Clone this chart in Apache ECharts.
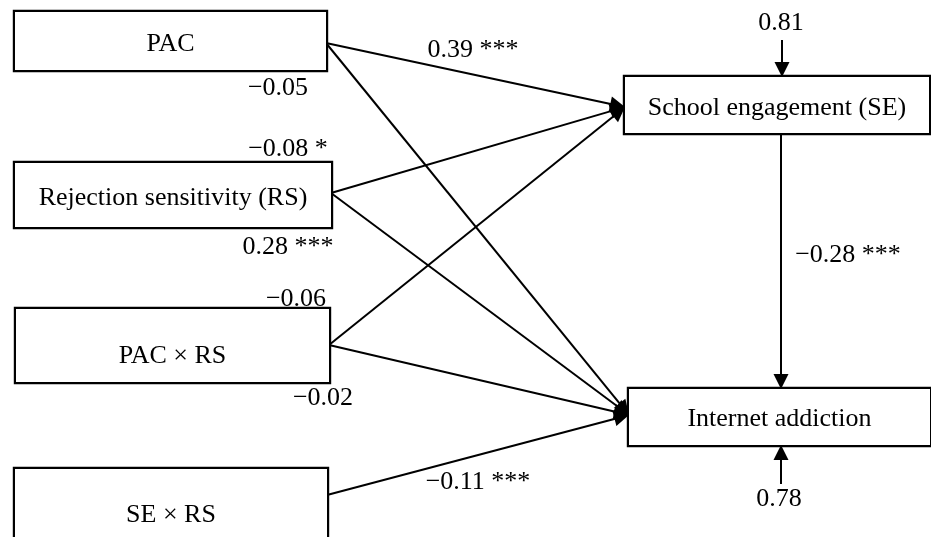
<!DOCTYPE html>
<html>
<head>
<meta charset="utf-8">
<script src="https://cdn.jsdelivr.net/npm/echarts@6/dist/echarts.min.js"></script>
<style>
html, body { margin: 0; background: #fff; }
#main { width: 931px; height: 537px; }
</style>
</head>
<body>
<div id="main"></div>
<script>
// variables (boxes) and path coefficients
var boxNames = ['PAC', 'Rejection sensitivity (RS)', 'PAC × RS', 'SE × RS', 'School engagement (SE)', 'Internet addiction'];
var pathFrom = ['PAC', 'PAC', 'Rejection sensitivity (RS)', 'Rejection sensitivity (RS)', 'PAC × RS', 'PAC × RS', 'SE × RS', 'School engagement (SE)'];
var pathTo = ['School engagement (SE)', 'Internet addiction', 'School engagement (SE)', 'Internet addiction', 'School engagement (SE)', 'Internet addiction', 'Internet addiction', 'Internet addiction'];
var pathCoef = ['0.39 ***', '−0.05', '−0.08 *', '0.28 ***', '−0.06', '−0.02', '−0.11 ***', '−0.28 ***'];
var residualOf = ['School engagement (SE)', 'Internet addiction'];
var residualValues = ['0.81', '0.78'];

// layout, in pixels of the 931x537 canvas
var boxRect = {
    'PAC': [15, 12, 326, 70],
    'Rejection sensitivity (RS)': [15, 163, 331, 227],
    'PAC × RS': [16, 309, 329, 382],
    'SE × RS': [15, 469, 327, 546],
    'School engagement (SE)': [625, 77, 929, 133],
    'Internet addiction': [629, 389, 930, 445]
};
var textShift = {
    'PAC': 1.5, 'Rejection sensitivity (RS)': 1.5, 'PAC × RS': 9, 'SE × RS': 6,
    'School engagement (SE)': 1.5, 'Internet addiction': 0
};
var pathStart = [[326, 43], [326, 43], [331, 193], [331, 193], [329, 345], [329, 345], [327, 495], [781, 133]];
var pathEnd = [[625, 107], [629, 415], [625, 107], [629, 415], [625, 107], [629, 415], [629, 415], [781, 389]];
var coefPos = [[473, 48], [278, 86], [288, 147], [288, 245], [296, 297], [323, 396], [478, 480], [848, 253]];
var residualStart = [[782, 40], [781, 484]];
var residualEnd = [[782, 77], [781, 445]];
var residualPos = [[781, 21], [779, 497]];

var textDy = 2;
var font = { fontFamily: 'Liberation Serif', fontSize: 26, color: '#000' };
var arrowSize = 15;
var nodes = [];
var links = [];

function hidden(name, pt, size) {
    nodes.push({ name: name, value: pt, symbol: 'circle', symbolSize: size, itemStyle: { color: 'transparent' }, label: { show: false } });
}
function textNode(name, text, pt) {
    nodes.push({
        name: name, value: [pt[0], pt[1] + textDy], symbol: 'circle', symbolSize: 1, itemStyle: { color: 'transparent' },
        label: Object.assign({ show: true, position: 'inside', formatter: text }, font)
    });
}

// boxes: an empty label with a bordered background, then the name on top
boxNames.forEach(function (b, i) {
    var r = boxRect[b];
    var cx = (r[0] + r[2]) / 2, cy = (r[1] + r[3]) / 2;
    nodes.push({
        name: 'box' + i,
        value: [cx, cy],
        symbol: 'circle',
        symbolSize: 1,
        itemStyle: { color: 'transparent' },
        label: {
            show: true,
            position: 'inside',
            formatter: ' ',
            fontSize: 10,
            width: r[2] - r[0],
            height: r[3] - r[1],
            lineHeight: r[3] - r[1],
            padding: 0,
            align: 'center',
            verticalAlign: 'middle',
            backgroundColor: '#fff',
            borderColor: '#000',
            borderWidth: 2.2
        }
    });
    textNode(b, b, [cx, cy + textShift[b]]);
});

pathCoef.forEach(function (c, i) {
    hidden('s' + i, pathStart[i], 0);
    hidden('e' + i, pathEnd[i], arrowSize);
    links.push({ source: 's' + i, target: 'e' + i });
    textNode('c' + i, c, coefPos[i]);
});
residualValues.forEach(function (v, i) {
    hidden('rs' + i, residualStart[i], 0);
    hidden('re' + i, residualEnd[i], arrowSize);
    links.push({ source: 'rs' + i, target: 're' + i });
    textNode('rv' + i, v, residualPos[i]);
});

var chart = echarts.init(document.getElementById('main'));
chart.setOption({
    animation: false,
    grid: { left: 0, right: 0, top: 0, bottom: 0 },
    xAxis: { type: 'value', min: 0, max: 931, show: false },
    yAxis: { type: 'value', min: 0, max: 537, inverse: true, show: false },
    series: [{
        type: 'graph',
        coordinateSystem: 'cartesian2d',
        layout: 'none',
        silent: true,
        edgeSymbol: ['none', 'triangle'],
        edgeSymbolSize: [0, arrowSize],
        lineStyle: { color: '#000', width: 2, opacity: 1, curveness: 0 },
        data: nodes,
        links: links
    }]
});
</script>
</body>
</html>
